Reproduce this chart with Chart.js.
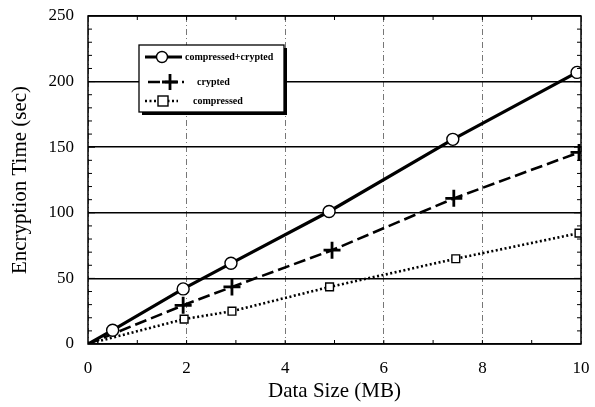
<!DOCTYPE html>
<html>
<head>
<meta charset="utf-8">
<script src="https://cdn.jsdelivr.net/npm/chart.js@4.4.1/dist/chart.umd.min.js"></script>
<style>
  html, body { margin: 0; padding: 0; background: #fff; }
  #wrap { width: 595px; height: 407px; position: relative; }
</style>
</head>
<body>
<div id="wrap"><canvas id="c" width="595" height="407"></canvas></div>
<script>
// values (first point is the origin, no marker)
const bothX = [0, 0.5, 1.93, 2.9, 4.89, 7.4, 9.92];
const bothY = [0, 10.5, 42, 61.5, 101, 156, 207];
const cryptX = [0, 1.93, 2.92, 4.95, 7.42, 9.96];
const cryptY = [0, 29.5, 43.5, 71.5, 111, 146];
const compX = [0, 1.95, 2.92, 4.9, 7.46, 9.96];
const compY = [0, 19, 25, 43.5, 65, 84.5];
const xTicks = [0, 2, 4, 6, 8, 10];
const yTicks = [0, 50, 100, 150, 200, 250];
const names = ['compressed+crypted', 'crypted', 'compressed'];

const SERIF = '"Liberation Serif", "DejaVu Serif", serif';

function pts(xs, ys){ return xs.map((x,i)=>({x, y: ys[i]})); }
function radii(n, r){ const a = new Array(n).fill(r); a[0] = 0; return a; }

const datasets = [
  { label: names[0], data: pts(bothX, bothY), borderColor: '#000', borderWidth: 3.2,
    pointStyle: 'circle', pointRadius: radii(bothX.length, 6), pointBackgroundColor: '#fff',
    pointBorderColor: '#000', pointBorderWidth: 1.4 },
  { label: names[1], data: pts(cryptX, cryptY), borderColor: '#000', borderWidth: 2.6, borderDash: [12, 5],
    pointStyle: 'cross', pointRadius: radii(cryptX.length, 8.5), pointBorderColor: '#000', pointBorderWidth: 2.8 },
  { label: names[2], data: pts(compX, compY), borderColor: '#000', borderWidth: 2.6, borderDash: [2, 2.5],
    pointStyle: 'rect', pointRadius: radii(compX.length, 5.5), pointBackgroundColor: '#fff',
    pointBorderColor: '#000', pointBorderWidth: 1.4 }
];

// frame, minor ticks and the boxed legend inside the plot
const decor = {
  id: 'decor',
  afterDatasetsDraw(chart){
    const { ctx, chartArea: a, scales } = chart;
    ctx.save();
    ctx.strokeStyle = '#000';
    ctx.lineWidth = 1.5;
    ctx.strokeRect(a.left, a.top, a.right - a.left, a.bottom - a.top);
    // minor ticks inside, left/right every 10, bottom every 1
    ctx.lineWidth = 1;
    for (let v = 10; v < 250; v += 10){
      const y = scales.y.getPixelForValue(v);
      const len = v % 50 === 0 ? 7 : 4;
      ctx.beginPath();
      ctx.moveTo(a.left, y); ctx.lineTo(a.left + len, y);
      ctx.moveTo(a.right, y); ctx.lineTo(a.right - len, y);
      ctx.stroke();
    }
    for (let v = 1; v < 10; v++){
      const x = scales.x.getPixelForValue(v);
      ctx.beginPath();
      ctx.moveTo(x, a.bottom); ctx.lineTo(x, a.bottom - 4);
      ctx.moveTo(x, a.top); ctx.lineTo(x, a.top + 4);
      ctx.stroke();
    }
    // legend box
    const bx = 139, by = 45, bw = 145, bh = 67;
    ctx.fillStyle = '#fff';
    ctx.fillRect(bx, by, bw, bh);
    ctx.fillStyle = '#000';
    ctx.fillRect(bx + 3, by + bh, bw, 3);
    ctx.fillRect(bx + bw, by + 3, 3, bh);
    ctx.lineWidth = 1.3;
    ctx.strokeRect(bx, by, bw, bh);
    const rows = [by + 12, by + 37, by + 56];
    const lines = [[6, 43], [9, 45], [6, 39]];
    const marks = [23, 31, 24];
    const textX = [46, 58, 54];
    ctx.font = 'bold 10px ' + SERIF;
    ctx.textBaseline = 'middle';
    datasets.forEach((d, i)=>{
      const y = rows[i];
      ctx.save();
      ctx.lineWidth = d.borderWidth;
      ctx.setLineDash(d.borderDash || []);
      ctx.beginPath(); ctx.moveTo(bx + lines[i][0], y); ctx.lineTo(bx + lines[i][1], y); ctx.stroke();
      ctx.restore();
      const cx = bx + marks[i];
      ctx.save();
      ctx.lineWidth = d.pointBorderWidth;
      if (d.pointStyle === 'circle'){
        ctx.fillStyle = '#fff';
        ctx.beginPath(); ctx.arc(cx, y, 5.5, 0, Math.PI * 2); ctx.fill(); ctx.stroke();
      } else if (d.pointStyle === 'rect'){
        ctx.fillStyle = '#fff';
        ctx.fillRect(cx - 5, y - 5, 10, 10); ctx.strokeRect(cx - 5, y - 5, 10, 10);
      } else {
        ctx.beginPath(); ctx.moveTo(cx - 8, y); ctx.lineTo(cx + 8, y);
        ctx.moveTo(cx, y - 8); ctx.lineTo(cx, y + 8); ctx.stroke();
      }
      ctx.restore();
      ctx.fillStyle = '#000';
      ctx.fillText(d.label, bx + textX[i], y);
    });
    ctx.restore();
  }
};

new Chart(document.getElementById('c'), {
  type: 'scatter',
  data: { datasets: datasets.map(d => Object.assign({ showLine: true, fill: false, tension: 0 }, d)) },
  options: {
    responsive: false,
    animation: false,
    layout: { padding: { left: 0, right: 14, top: 16, bottom: 0 } },
    plugins: { legend: { display: false }, tooltip: { enabled: false } },
    scales: {
      x: {
        type: 'linear', min: 0, max: 10,
        afterBuildTicks: s => { s.ticks = xTicks.map(v => ({ value: v })); },
        afterFit: s => { s.height = 63; s.paddingLeft = 0; s.paddingRight = 0; },
        grid: { color: '#777', lineWidth: 1, drawTicks: false },
        border: { display: false, dash: [6, 3, 1, 3] },
        ticks: { color: '#000', font: { family: SERIF, size: 17 }, padding: 14, maxRotation: 0 },
        title: { display: true, text: 'Data Size (MB)', color: '#000', font: { family: SERIF, size: 21 }, padding: { top: 0, bottom: 3 } }
      },
      y: {
        type: 'linear', min: 0, max: 250,
        afterBuildTicks: s => { s.ticks = yTicks.map(v => ({ value: v })); },
        afterFit: s => { s.width = 88; s.paddingTop = 0; s.paddingBottom = 0; },
        grid: { color: '#000', lineWidth: 1.5, drawTicks: false },
        border: { display: false },
        ticks: { color: '#000', font: { family: SERIF, size: 17 }, padding: 14 },
        title: { display: true, text: 'Encryption Time (sec)', color: '#000', font: { family: SERIF, size: 21 }, padding: { top: 8, bottom: 0 } }
      }
    }
  },
  plugins: [decor]
});
</script>
</body>
</html>
